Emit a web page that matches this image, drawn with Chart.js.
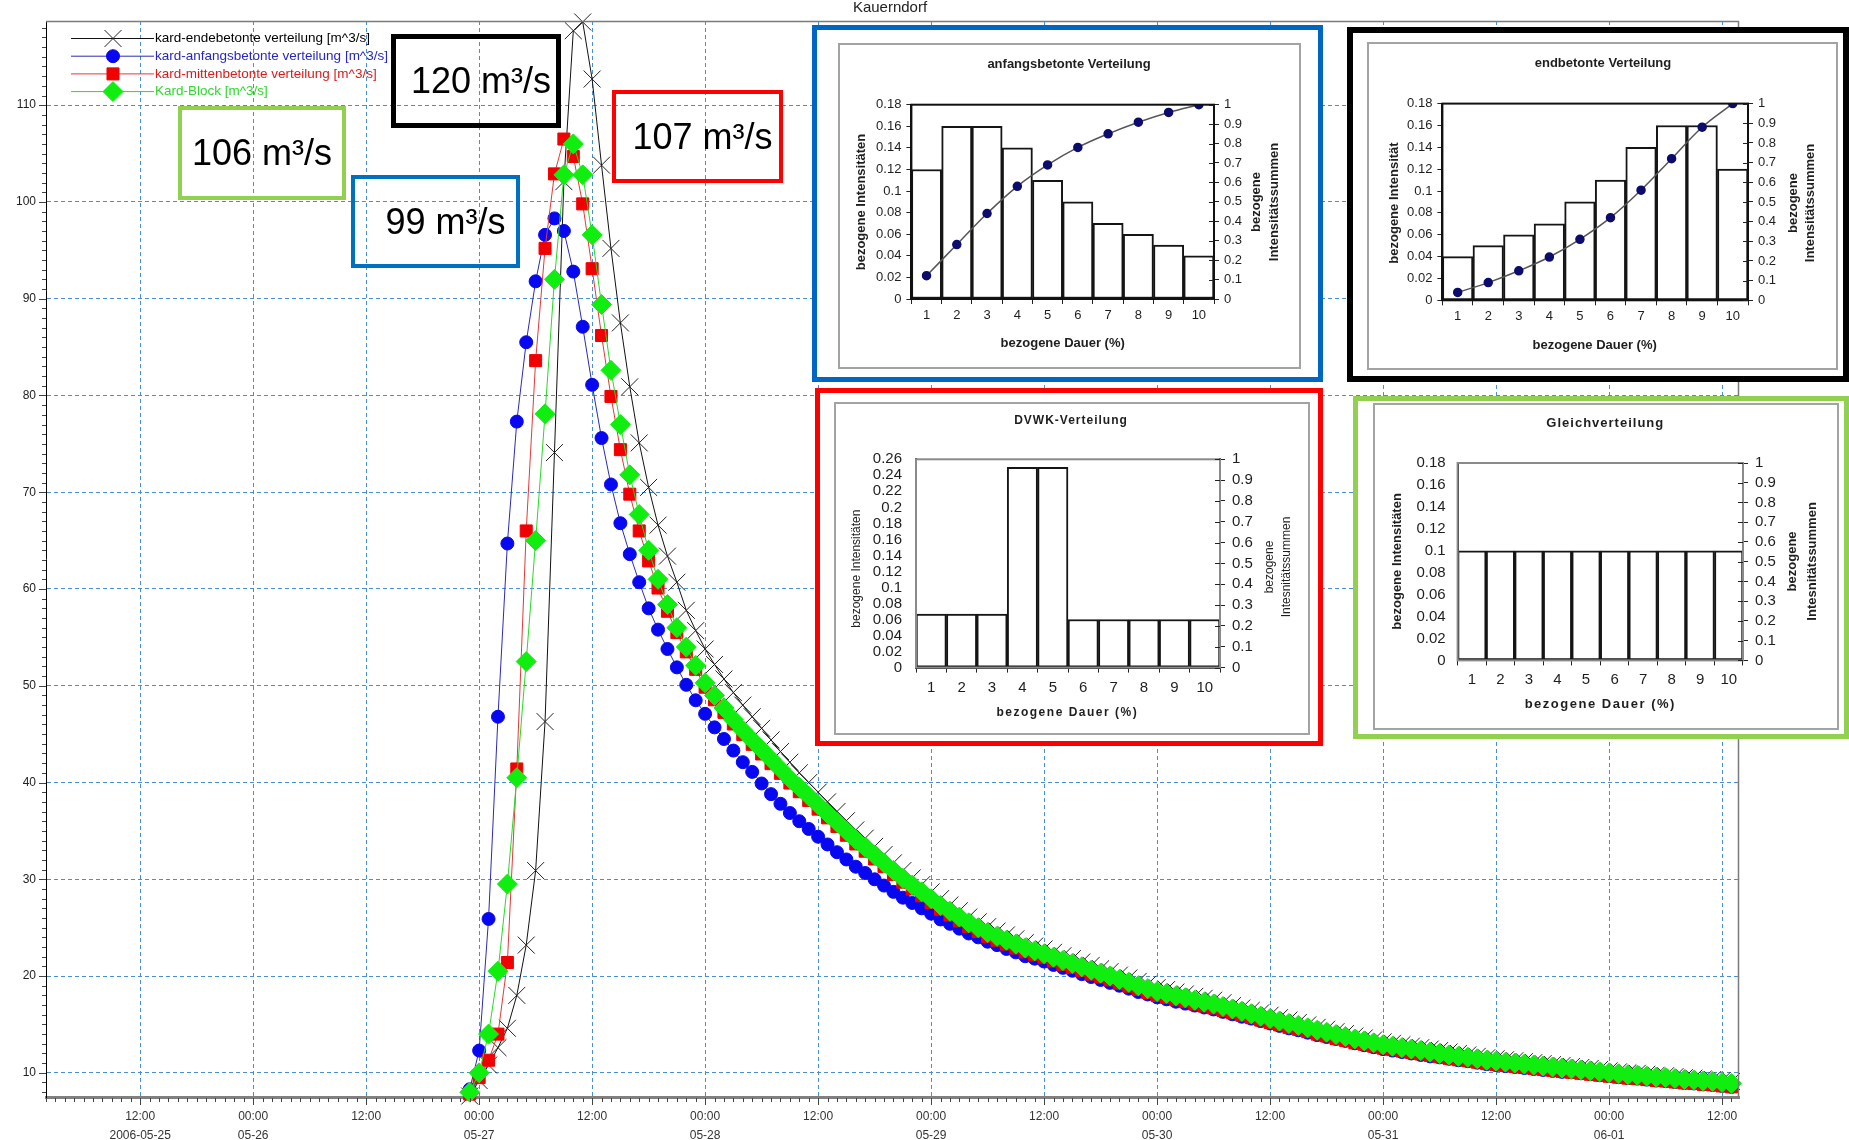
<!DOCTYPE html>
<html>
<head>
<meta charset="utf-8">
<script src="https://cdn.jsdelivr.net/npm/chart.js@4.4.1/dist/chart.umd.min.js"></script>
<style>
  body { margin: 0; background: #fff; font-family: "Liberation Sans", Arial, sans-serif; }
  #wrap { position: relative; width: 1849px; height: 1140px; overflow: hidden; }
  #main { position: absolute; left: 0; top: 0; }
  #plotTitle { position: absolute; left: 830px; top: -2px; width: 120px; text-align: center; font-size: 15px; color: #222; }
  .note { position: absolute; box-sizing: border-box; display: flex; align-items: center; justify-content: center;
          font-size: 36px; color: #000; background: transparent; }
  .frame { position: absolute; box-sizing: border-box; background: #fff; }
  .inset { position: absolute; box-sizing: border-box; border: 2px solid #a3a3a3; background: #fff; }
  .inset canvas { display: block; }
</style>
</head>
<body>
<div id="wrap">
  <canvas id="main" width="1849" height="1140"></canvas>
  <div id="plotTitle">Kauerndorf</div>

  <div class="note" style="left:391px;top:34px;width:170px;height:94px;border:5px solid #000;padding-left:10px">120 m³/s</div>
  <div class="note" style="left:178px;top:106px;width:168px;height:94px;border:4px solid #92d050;">106 m³/s</div>
  <div class="note" style="left:351px;top:175px;width:169px;height:93px;border:4px solid #0070c0;padding-left:20px">99 m³/s</div>
  <div class="note" style="left:612px;top:90px;width:171px;height:93px;border:4px solid #ff0000;padding-left:10px">107 m³/s</div>

  <div class="frame" style="left:812px;top:25px;width:511px;height:357px;border:5px solid #0066c4"></div>
  <div class="frame" style="left:1347px;top:27px;width:502px;height:355px;border:6px solid #000"></div>
  <div class="frame" style="left:815px;top:388px;width:508px;height:358px;border:5px solid #ff0000"></div>
  <div class="frame" style="left:1353px;top:396px;width:496px;height:343px;border:5px solid #92d050"></div>

  <div class="inset" style="left:838px;top:43px;width:463px;height:326px"><canvas id="c1" width="459" height="322"></canvas></div>
  <div class="inset" style="left:1367px;top:42px;width:471px;height:328px"><canvas id="c2" width="467" height="324"></canvas></div>
  <div class="inset" style="left:834px;top:402px;width:476px;height:333px"><canvas id="c3" width="472" height="329"></canvas></div>
  <div class="inset" style="left:1373px;top:403px;width:466px;height:327px"><canvas id="c4" width="462" height="323"></canvas></div>
</div>

<script>
// ---- hydrograph data (hourly, hours counted from 2006-05-27 00:00) ----
const startHour = -1;

const endbetont = [7.6, 9.2, 10.8, 12.6, 14.6, 18.0, 23.2, 30.9, 46.3, 74.1, 102.1, 117.7, 118.6, 112.7, 103.8, 95.2, 87.5, 80.9, 75.1, 70.5, 66.6, 63.4, 60.7, 57.8, 55.7,
  53.8, 52.2, 50.7, 49.3, 48.0, 46.8, 45.6, 44.4, 43.2, 42.1, 41.0, 40.0, 39.0, 38.0, 37.0, 36.05, 35.1, 34.25, 33.4, 32.55, 31.7, 30.9, 30.15, 29.45, 28.7, 28.0, 27.35, 26.75, 26.1, 25.6, 25.1, 24.65, 24.25, 23.85, 23.45, 23.1, 22.8,
  22.45, 22.1, 21.8, 21.45, 21.1, 20.75, 20.45, 20.1, 19.8, 19.45, 19.15, 18.8,
  18.6, 18.35, 18.15, 17.9, 17.7, 17.5, 17.25, 16.95, 16.7, 16.45, 16.2, 15.95,
  15.7, 15.45, 15.2, 14.95, 14.7, 14.5, 14.25, 14.05, 13.8, 13.6, 13.4, 13.2,
  13.05, 12.9, 12.75, 12.6, 12.45, 12.3, 12.15, 12.0, 11.85, 11.7, 11.55, 11.45,
  11.35, 11.25, 11.15, 11.05, 10.95, 10.85, 10.75, 10.65, 10.55, 10.45, 10.35, 10.2,
  10.1, 10.0, 9.95, 9.85, 9.75, 9.7, 9.6, 9.5, 9.45, 9.35, 9.3, 9.2, 9.1];

const anfangsbetont = [8.3, 12.3, 25.9, 46.8, 64.7, 77.3, 85.5, 91.8, 96.6, 98.3, 97.0, 92.8, 87.1, 81.1, 75.6, 70.8, 66.8, 63.6, 60.7, 58.0, 55.8, 53.8, 51.9, 50.1, 48.5,
  47.1, 45.7, 44.5, 43.3, 42.1, 41.1, 39.9, 38.8, 37.8, 36.85, 36.0, 35.2, 34.4, 33.6, 32.8, 32.05, 31.3, 30.65, 30.0, 29.35, 28.7, 28.1, 27.55, 27.0, 26.45, 25.85, 25.4, 24.9, 24.4, 24.0, 23.55, 23.2, 22.8, 22.45, 22.05, 21.8, 21.5,
  21.15, 20.85, 20.55, 20.2, 19.9, 19.6, 19.3, 19.0, 18.7, 18.35, 18.1, 17.8,
  17.6, 17.35, 17.15, 16.95, 16.75, 16.55, 16.3, 16.05, 15.8, 15.6, 15.35, 15.1,
  14.85, 14.6, 14.4, 14.15, 13.9, 13.7, 13.5, 13.3, 13.05, 12.85, 12.65, 12.45,
  12.3, 12.15, 12.0, 11.85, 11.7, 11.6, 11.45, 11.3, 11.2, 11.05, 10.9, 10.8,
  10.7, 10.6, 10.5, 10.4, 10.3, 10.2, 10.1, 10.05, 9.95, 9.85, 9.75, 9.65,
  9.55, 9.45, 9.4, 9.3, 9.2, 9.15, 9.05, 8.95, 8.9, 8.8, 8.75, 8.65, 8.55];

const mittenbetont = [7.8, 9.5, 11.3, 14.0, 21.4, 41.4, 66.0, 83.6, 95.2, 102.9, 106.5, 104.7, 99.8, 93.1, 86.2, 79.9, 74.4, 69.8, 66.0, 62.9, 60.1, 57.7, 55.5, 53.5, 51.7,
  49.85, 48.55, 47.25, 46.05, 44.95, 43.95, 42.95, 41.95, 40.95, 39.95, 39.05, 38.15, 37.25, 36.35, 35.45, 34.55, 33.65, 32.9, 32.1, 31.3, 30.5, 29.7, 29.0, 28.3, 27.6, 26.9, 26.3, 25.7, 25.1, 24.6, 24.1, 23.7, 23.3, 22.9, 22.5, 22.2, 21.9,
  21.55, 21.2, 20.9, 20.55, 20.2, 19.9, 19.6, 19.25, 18.95, 18.6, 18.3, 18.0,
  17.8, 17.55, 17.35, 17.1, 16.9, 16.7, 16.45, 16.2, 15.95, 15.7, 15.45, 15.2,
  14.95, 14.7, 14.5, 14.25, 14.0, 13.8, 13.55, 13.35, 13.1, 12.95, 12.75, 12.55,
  12.4, 12.25, 12.1, 11.95, 11.8, 11.65, 11.5, 11.35, 11.25, 11.1, 10.95, 10.85,
  10.75, 10.65, 10.55, 10.45, 10.35, 10.25, 10.15, 10.05, 9.95, 9.85, 9.75, 9.65,
  9.55, 9.45, 9.4, 9.3, 9.2, 9.15, 9.05, 8.95, 8.9, 8.8, 8.75, 8.65, 8.55];

const block = [8.0, 10.0, 14.0, 20.5, 29.5, 40.5, 52.5, 65.0, 78.1, 92.0, 102.8, 106.0, 102.8, 96.6, 89.4, 82.6, 77.0, 71.8, 67.7, 64.0, 61.0, 58.4, 56.0, 54.0, 52.1,
  50.3, 49.0, 47.7, 46.5, 45.4, 44.4, 43.4, 42.4, 41.4, 40.4, 39.5, 38.6, 37.7, 36.8, 35.9, 35.0, 34.1, 33.3, 32.5, 31.7, 30.9, 30.1, 29.4, 28.7, 28.0, 27.3, 26.7, 26.1, 25.5, 25.0, 24.5, 24.1, 23.7, 23.3, 22.9, 22.6, 22.3,
  21.95, 21.6, 21.3, 20.95, 20.6, 20.3, 20.0, 19.65, 19.35, 19.0, 18.7, 18.4,
  18.2, 17.95, 17.75, 17.5, 17.3, 17.1, 16.85, 16.6, 16.35, 16.1, 15.85, 15.6,
  15.35, 15.1, 14.9, 14.65, 14.4, 14.2, 13.95, 13.75, 13.5, 13.3, 13.1, 12.9,
  12.75, 12.6, 12.45, 12.3, 12.15, 12.0, 11.85, 11.7, 11.6, 11.45, 11.3, 11.2,
  11.1, 11.0, 10.9, 10.8, 10.7, 10.6, 10.5, 10.4, 10.3, 10.2, 10.1, 10.0,
  9.9, 9.8, 9.75, 9.65, 9.55, 9.5, 9.4, 9.3, 9.25, 9.15, 9.1, 9.0, 8.9];

const xTicks = [-36, -24, -12, 0, 12, 24, 36, 48, 60, 72, 84, 96, 108, 120, 132];
const xTickLabels = [['12:00', '2006-05-25'], ['00:00', '05-26'], '12:00', ['00:00', '05-27'], '12:00', ['00:00', '05-28'], '12:00',
  ['00:00', '05-29'], '12:00', ['00:00', '05-30'], '12:00', ['00:00', '05-31'], '12:00', ['00:00', '06-01'], '12:00'];
const yTicks = [10, 20, 30, 40, 50, 60, 70, 80, 90, 100, 110];

const seriesNames = ['kard-endebetonte verteilung [m^3/s]', 'kard-anfangsbetonte verteilung [m^3/s]', 'kard-mittenbetonte verteilung [m^3/s]', 'Kard-Block [m^3/s]'];

// ---- inset data ----
const insetCats = ['1', '2', '3', '4', '5', '6', '7', '8', '9', '10'];
const anfangsBars = [0.12, 0.16, 0.16, 0.14, 0.11, 0.09, 0.07, 0.06, 0.05, 0.04];
const anfangsSum = [0.12, 0.28, 0.44, 0.58, 0.69, 0.78, 0.85, 0.91, 0.96, 1.0];
const endBars = [0.04, 0.05, 0.06, 0.07, 0.09, 0.11, 0.14, 0.16, 0.16, 0.12];
const endSum = [0.04, 0.09, 0.15, 0.22, 0.31, 0.42, 0.56, 0.72, 0.88, 1.0];
const dvwkBars = [0.0667, 0.0667, 0.0667, 0.25, 0.25, 0.06, 0.06, 0.06, 0.06, 0.06];
const gleichBars = [0.1, 0.1, 0.1, 0.1, 0.1, 0.1, 0.1, 0.1, 0.1, 0.1];
const ticks018 = [0, 0.02, 0.04, 0.06, 0.08, 0.1, 0.12, 0.14, 0.16, 0.18];
const ticks026 = [0, 0.02, 0.04, 0.06, 0.08, 0.1, 0.12, 0.14, 0.16, 0.18, 0.2, 0.22, 0.24, 0.26];
const ticksSum = [0, 0.1, 0.2, 0.3, 0.4, 0.5, 0.6, 0.7, 0.8, 0.9, 1];

Chart.defaults.font.family = '"Liberation Sans", Arial, sans-serif';

const hours = [];
for (let i = 0; i < block.length; i++) hours.push(startHour + i);
const pts = arr => arr.map((v, i) => ({ x: hours[i], y: v }));

const styles = [
  { data: endbetont, line: '#111111', fill: '#222222', pointStyle: 'crossRot', r: 12, text: '#000000', order: 3 },
  { data: anfangsbetont, line: '#2a2ab4', fill: '#0808f0', pointStyle: 'circle', r: 6.5, text: '#2626c8', order: 2 },
  { data: mittenbetont, line: '#e03a3a', fill: '#f00000', pointStyle: 'rect', r: 8.5, text: '#e01818', order: 1 },
  { data: block, line: '#2ad82a', fill: '#10ee10', pointStyle: 'rectRot', r: 10, text: '#2ed82e', order: 0 }
];

// minor ticks, frame and legend of the hydrograph
const mainDeco = {
  id: 'mainDeco',
  afterDraw(chart) {
    const { ctx, chartArea: a, scales: { x, y } } = chart;
    ctx.save();
    ctx.strokeStyle = '#7a7a7a';
    ctx.lineWidth = 1.5;
    ctx.beginPath();
    ctx.moveTo(a.left, a.top + 0.5); ctx.lineTo(a.right, a.top + 0.5);
    ctx.moveTo(a.right - 0.5, a.top); ctx.lineTo(a.right - 0.5, a.bottom);
    ctx.stroke();
    ctx.strokeStyle = '#444';
    ctx.lineWidth = 1;
    ctx.beginPath();
    for (let h = Math.ceil(x.min); h <= x.max; h++) {
      const px = Math.round(x.getPixelForValue(h)) + 0.5;
      const len = h % 12 === 0 ? 7 : 4;
      ctx.moveTo(px, a.bottom + 1); ctx.lineTo(px, a.bottom + 1 + len);
    }
    for (let v = Math.ceil(y.min); v <= y.max; v++) {
      const py = Math.round(y.getPixelForValue(v)) + 0.5;
      const len = v % 10 === 0 ? 7 : 4;
      ctx.moveTo(a.left - len, py); ctx.lineTo(a.left, py);
    }
    ctx.stroke();

    // legend
    ctx.font = '13.5px "Liberation Sans", Arial, sans-serif';
    ctx.textBaseline = 'middle';
    styles.forEach((s, i) => {
      const yy = 38.5 + i * 17.7;
      ctx.strokeStyle = s.line; ctx.lineWidth = 1;
      ctx.beginPath(); ctx.moveTo(71, yy); ctx.lineTo(154, yy); ctx.stroke();
      ctx.fillStyle = s.fill; ctx.strokeStyle = s.fill;
      Chart.helpers.drawPoint(ctx, { pointStyle: s.pointStyle, radius: s.r, rotation: 0, borderWidth: 1 }, 113, yy);
      ctx.fillStyle = s.text;
      ctx.fillText(seriesNames[i], 155, yy);
    });
    ctx.restore();
  }
};

new Chart(document.getElementById('main'), {
  type: 'line',
  data: {
    datasets: styles.map((s, i) => ({
      label: seriesNames[i],
      data: pts(s.data),
      borderColor: s.line,
      borderWidth: 1,
      pointStyle: s.pointStyle,
      pointRadius: s.r,
      pointBackgroundColor: s.fill,
      pointBorderColor: s.fill,
      pointBorderWidth: 1,
      tension: 0,
      clip: false,
      order: s.order
    }))
  },
  options: {
    responsive: false,
    animation: false,
    layout: { padding: { top: 21, right: 110, left: 0, bottom: 0 } },
    plugins: { legend: { display: false }, tooltip: { enabled: false } },
    scales: {
      x: {
        type: 'linear', min: -46, max: 133.8,
        afterBuildTicks: s => { s.ticks = xTicks.map(v => ({ value: v })); },
        afterFit: s => { s.height = 43; },
        ticks: {
          autoSkip: false, maxRotation: 0, padding: 10, color: '#333',
          font: { size: 12, lineHeight: 1.6 }, callback: (v, i) => xTickLabels[i]
        },
        grid: { color: '#4a8fd4', lineWidth: 1, drawTicks: false },
        border: { color: '#808080', width: 3, dash: [4, 3] }
      },
      y: {
        min: 7.5, max: 118.7,
        afterBuildTicks: s => { s.ticks = yTicks.map(v => ({ value: v })); },
        afterFit: s => { s.width = 46; },
        ticks: { padding: 10, color: '#222', font: { size: 12 } },
        grid: { color: '#4a8fd4', lineWidth: 1, drawTicks: false },
        border: { color: '#000', width: 1, dash: [4, 3] }
      }
    }
  },
  plugins: [mainDeco]
});

// ---- inset charts ----
const fmt = v => String(Math.round(v * 100) / 100);

const insetDeco = {
  id: 'insetDeco',
  afterDraw(chart, args, o) {
    const { ctx, chartArea: a, scales } = chart;
    ctx.save();
    ctx.strokeStyle = o.boxColor;
    ctx.lineWidth = 2;
    ctx.strokeRect(a.left, a.top, a.right - a.left, a.bottom - a.top);
    // right axis ticks reaching into the plot
    ctx.strokeStyle = '#222';
    ctx.lineWidth = 1;
    ctx.beginPath();
    ticksSum.forEach(v => {
      const py = Math.round(scales.y1.getPixelForValue(v)) + 0.5;
      ctx.moveTo(a.right - 5, py); ctx.lineTo(a.right, py);
    });
    ctx.stroke();
    o.items.forEach(it => {
      ctx.save();
      ctx.font = it.font;
      ctx.fillStyle = '#1e1e1e';
      ctx.textAlign = 'center';
      ctx.textBaseline = 'middle';
      ctx.letterSpacing = it.ls || '0px';
      ctx.translate(it.x, it.y);
      if (it.rot) ctx.rotate(-Math.PI / 2);
      ctx.fillText(it.text, 0, 0);
      ctx.restore();
    });
    ctx.restore();
  }
};

function insetChart(id, cfg) {
  const cv = document.getElementById(id);
  const W = cv.width, H = cv.height, A = cfg.area;
  const datasets = [{
    type: 'bar', data: cfg.bars, yAxisID: 'y', order: 2,
    backgroundColor: '#ffffff', borderColor: '#151515', borderWidth: 2, borderSkipped: false,
    barPercentage: 1, categoryPercentage: 1
  }];
  if (cfg.sums) {
    datasets.push({
      type: 'line', data: cfg.sums, yAxisID: 'y1', order: 1,
      borderColor: '#555', borderWidth: 1.5, tension: 0.4,
      pointRadius: 4, pointBackgroundColor: '#0c0c6e', pointBorderColor: '#0c0c6e'
    });
  }
  const tf = { size: cfg.tickSize, lineHeight: 1 };
  return new Chart(cv, {
    data: { labels: insetCats, datasets },
    options: {
      responsive: false,
      animation: false,
      layout: { padding: { top: A[1], left: 0, right: 0, bottom: 0 } },
      plugins: {
        legend: { display: false }, tooltip: { enabled: false },
        insetDeco: { boxColor: cfg.boxColor, items: cfg.texts }
      },
      scales: {
        x: {
          type: 'category', offset: true,
          afterFit: s => { s.height = H - A[3]; },
          ticks: { color: '#1e1e1e', font: tf, padding: cfg.xPad, autoSkip: false, maxRotation: 0 },
          grid: { offset: true, drawOnChartArea: false, tickLength: 5, color: '#222' },
          border: { color: '#111', width: 2 }
        },
        y: {
          min: 0, max: cfg.yMax,
          afterBuildTicks: s => { s.ticks = cfg.yTicks.map(v => ({ value: v })); },
          afterFit: s => { s.width = A[0]; },
          ticks: { color: '#1e1e1e', font: tf, padding: cfg.yPad, callback: fmt, autoSkip: false },
          grid: { drawOnChartArea: false, drawTicks: cfg.leftTicks, tickLength: 5, color: '#222' },
          border: { color: '#111', width: 2 }
        },
        y1: {
          position: 'right', min: 0, max: 1,
          afterBuildTicks: s => { s.ticks = ticksSum.map(v => ({ value: v })); },
          afterFit: s => { s.width = W - A[2]; },
          ticks: { color: '#1e1e1e', font: tf, padding: cfg.y1Pad, callback: fmt, autoSkip: false },
          grid: { drawOnChartArea: false, tickLength: 5, color: '#222' },
          border: { color: '#111', width: 2 }
        }
      }
    },
    plugins: [insetDeco]
  });
}

const bold13 = 'bold 13px "Liberation Sans", Arial, sans-serif';
const bold12 = 'bold 12px "Liberation Sans", Arial, sans-serif';

insetChart('c1', {
  bars: anfangsBars, sums: anfangsSum, yMax: 0.18, yTicks: ticks018,
  area: [71.4, 59.7, 374, 254], tickSize: 13, xPad: 5, yPad: 5, y1Pad: 5, leftTicks: true, boxColor: '#111',
  texts: [
    { text: 'anfangsbetonte Verteilung', x: 229, y: 19, font: bold13 },
    { text: 'bezogene Intensitäten', x: 21.4, y: 157, font: bold13, rot: true },
    { text: 'bezogene', x: 416.4, y: 157, font: bold13, rot: true },
    { text: 'Intensitätssummen', x: 434.7, y: 157, font: bold13, rot: true },
    { text: 'bezogene Dauer (%)', x: 222.7, y: 298, font: bold13 }
  ]
});

insetChart('c2', {
  bars: endBars, sums: endSum, yMax: 0.18, yTicks: ticks018,
  area: [73.4, 59.6, 379, 256.3], tickSize: 13, xPad: 5, yPad: 5, y1Pad: 5, leftTicks: true, boxColor: '#111',
  texts: [
    { text: 'endbetonte Verteilung', x: 234, y: 19.6, font: bold13 },
    { text: 'bezogene Intensität', x: 25.7, y: 159, font: bold13, rot: true },
    { text: 'bezogene', x: 424.7, y: 159, font: bold13, rot: true },
    { text: 'Intensitätssummen', x: 441.4, y: 159, font: bold13, rot: true },
    { text: 'bezogene Dauer (%)', x: 225.7, y: 301.3, font: bold13 }
  ]
});

insetChart('c3', {
  bars: dvwkBars, yMax: 0.26, yTicks: ticks026,
  area: [80, 55.3, 384, 263.6], tickSize: 15, xPad: 8, yPad: 14, y1Pad: 7, leftTicks: false, boxColor: '#8a8a8a',
  texts: [
    { text: 'DVWK-Verteilung', x: 235, y: 17, font: bold12, ls: '1px' },
    { text: 'bezogene Intensitäten', x: 20.7, y: 164.6, font: '12px "Liberation Sans", Arial, sans-serif', rot: true },
    { text: 'bezogene', x: 433.3, y: 163, font: '12px "Liberation Sans", Arial, sans-serif', rot: true },
    { text: 'Intesnitätssummen', x: 450.7, y: 163, font: '12px "Liberation Sans", Arial, sans-serif', rot: true },
    { text: 'bezogene Dauer (%)', x: 231.3, y: 308.6, font: bold12, ls: '1.5px' }
  ]
});

insetChart('c4', {
  bars: gleichBars, yMax: 0.18, yTicks: ticks018,
  area: [82.6, 58, 368, 255.4], tickSize: 15, xPad: 7, yPad: 12, y1Pad: 7, leftTicks: false, boxColor: '#8a8a8a',
  texts: [
    { text: 'Gleichverteilung', x: 230.3, y: 18, font: bold13, ls: '1px' },
    { text: 'bezogene Intensitäten', x: 22, y: 156.4, font: bold13, rot: true },
    { text: 'bezogene', x: 417, y: 156.4, font: bold13, rot: true },
    { text: 'Intesnitätssummen', x: 437.6, y: 156.4, font: bold13, rot: true },
    { text: 'bezogene Dauer (%)', x: 225.3, y: 299.7, font: bold13, ls: '1.5px' }
  ]
});
</script>
</body>
</html>
